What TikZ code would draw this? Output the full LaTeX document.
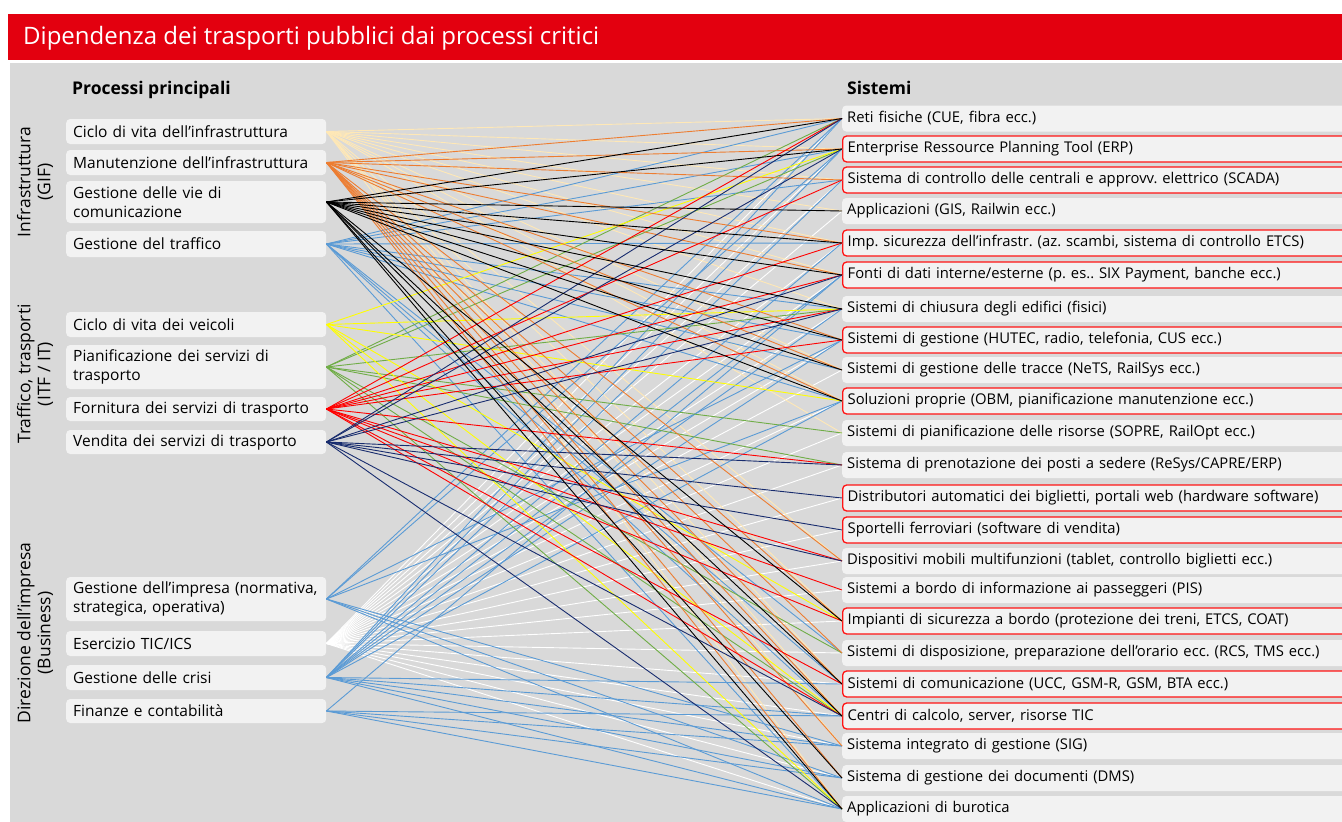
\documentclass[tikz,border=0pt]{standalone}
\usepackage{fontspec}
\setmainfont{Open Sans}
\frenchspacing
\definecolor{titlered}{RGB}{227,0,15}
\definecolor{bggray}{RGB}{217,217,217}
\definecolor{boxgray}{RGB}{242,242,242}
\definecolor{sysred}{RGB}{255,20,20}
\definecolor{lcream}{RGB}{255,232,182}
\definecolor{lorange}{RGB}{237,125,49}
\definecolor{lblue}{RGB}{91,155,213}
\definecolor{lyellow}{RGB}{255,255,0}
\definecolor{lgreen}{RGB}{112,173,71}
\definecolor{lred}{RGB}{255,0,0}
\definecolor{lnavy}{RGB}{24,44,110}
\newcommand{\boxfont}{\fontsize{15.5}{19}\selectfont}
\newcommand{\sysfont}{\fontsize{14.8}{18}\selectfont}
\newcommand{\grpfont}{\fontsize{17.5}{20}\selectfont}
\newcommand{\headfont}{\fontsize{17.5}{20}\selectfont\bfseries}
\newcommand{\titlefont}{\fontsize{24}{28}\selectfont}
\tikzset{
  pbox/.style={fill=boxgray, rounded corners=4pt, anchor=west, minimum width=260pt, text width=246pt, inner xsep=7pt, inner ysep=2pt, align=left, font=\boxfont},
  sbox/.style={fill=boxgray, rounded corners=4pt, anchor=west, minimum width=530pt, text width=520pt, inner xsep=5pt, inner ysep=2pt, align=left, minimum height=26pt, font=\sysfont},
  redbox/.style={sbox, draw=sysred, line width=1.3pt},
  conn/.style={line width=0.9pt},
}
\begin{document}
\begin{tikzpicture}[x=1pt,y=-1pt]
\useasboundingbox (0,0) rectangle (1342,822);
\clip (0,0) rectangle (1342,822);
\fill[titlered] (8,14) rectangle (1342,60);
\node[anchor=west, text=white, font=\titlefont, inner sep=0pt] (title) at (23,38) {Dipendenza dei trasporti pubblici dai processi critici};
\fill[bggray] (10,63) rectangle (1342,822);

\node[anchor=west, font=\headfont, inner sep=0pt] (h1) at (72,90) {Processi principali};
\node[anchor=west, font=\headfont, inner sep=0pt] (h2) at (847,88) {Sistemi};

\node[rotate=90, align=center, font=\grpfont] (g1) at (35,182) {Infrastruttura\\(GIF)};
\node[rotate=90, align=center, font=\grpfont] (g2) at (35,374) {Traffico, trasporti\\(ITF / IT)};
\node[rotate=90, align=center, font=\grpfont] (g3) at (35,633) {Direzione dell’impresa\\(Business)};

% processes
\node[pbox, minimum height=25pt] (p1) at (66,131.5) {Ciclo di vita dell’infrastruttura};
\node[pbox, minimum height=25pt] (p2) at (66,162.5) {Manutenzione dell’infrastruttura};
\node[pbox, minimum height=42pt] (p3) at (66,202) {Gestione delle vie di\\comunicazione};
\node[pbox, minimum height=26pt] (p4) at (66,244) {Gestione del traffico};
\node[pbox, minimum height=25pt] (p5) at (66,324.5) {Ciclo di vita dei veicoli};
\node[pbox, minimum height=44pt] (p6) at (66,367) {Pianificazione dei servizi di\\trasporto};
\node[pbox, minimum height=24pt] (p7) at (66,409) {Fornitura dei servizi di trasporto};
\node[pbox, minimum height=24pt] (p8) at (66,442) {Vendita dei servizi di trasporto};
\node[pbox, minimum height=44pt] (p9) at (66,599) {Gestione dell’impresa (normativa,\\strategica, operativa)};
\node[pbox, minimum height=25pt] (p10) at (66,643.5) {Esercizio TIC/ICS};
\node[pbox, minimum height=25pt] (p11) at (66,677.5) {Gestione delle crisi};
\node[pbox, minimum height=24pt] (p12) at (66,711) {Finanze e contabilità};

% systems
\node[sbox] (s1) at (842,118.5) {Reti fisiche (CUE, fibra ecc.)};
\node[redbox] (s2) at (842,149) {Enterprise Ressource Planning Tool (ERP)};
\node[redbox] (s3) at (842,180) {Sistema di controllo delle centrali e approvv. elettrico (SCADA)};
\node[sbox] (s4) at (842,211) {Applicazioni (GIS, Railwin ecc.)};
\node[redbox] (s5) at (842,243) {Imp. sicurezza dell’infrastr. (az. scambi, sistema di controllo ETCS)};
\node[redbox] (s6) at (842,275) {Fonti di dati interne/esterne (p. es.. SIX Payment, banche ecc.)};
\node[sbox] (s7) at (842,309) {Sistemi di chiusura degli edifici (fisici)};
\node[redbox] (s8) at (842,340) {Sistemi di gestione (HUTEC, radio, telefonia, CUS ecc.)};
\node[sbox] (s9) at (842,370) {Sistemi di gestione delle tracce (NeTS, RailSys ecc.)};
\node[redbox] (s10) at (842,401) {Soluzioni proprie (OBM, pianificazione manutenzione ecc.)};
\node[sbox] (s11) at (842,433) {Sistemi di pianificazione delle risorse (SOPRE, RailOpt ecc.)};
\node[sbox] (s12) at (842,465) {Sistema di prenotazione dei posti a sedere (ReSys/CAPRE/ERP)};
\node[redbox] (s13) at (842,498) {Distributori automatici dei biglietti, portali web (hardware software)};
\node[redbox] (s14) at (842,530) {Sportelli ferroviari (software di vendita)};
\node[sbox] (s15) at (842,561) {Dispositivi mobili multifunzioni (tablet, controllo biglietti ecc.)};
\node[sbox] (s16) at (842,590) {Sistemi a bordo di informazione ai passeggeri (PIS)};
\node[redbox] (s17) at (842,621) {Impianti di sicurezza a bordo (protezione dei treni, ETCS, COAT)};
\node[sbox] (s18) at (842,653) {Sistemi di disposizione, preparazione dell’orario ecc. (RCS, TMS ecc.)};
\node[redbox] (s19) at (842,684) {Sistemi di comunicazione (UCC, GSM-R, GSM, BTA ecc.)};
\node[redbox] (s20) at (842,716) {Centri di calcolo, server, risorse TIC};
\node[sbox] (s21) at (842,746) {Sistema integrato di gestione (SIG)};
\node[sbox] (s22) at (842,778) {Sistema di gestione dei documenti (DMS)};
\node[sbox] (s23) at (842,809) {Applicazioni di burotica};

% connectors
\foreach \t in {1,...,23} \draw[conn, white] (p10.east) -- (s\t.west);
\foreach \t in {1,2,3,4,5,6,7,9,10,11,15,17,19,20,21,23} \draw[conn, lcream] (p1.east) -- (s\t.west);
\foreach \t in {1,2,3,5,7,8,9,10,18,19,20,23} \draw[conn, lblue] (p4.east) -- (s\t.west);
\foreach \t in {1,2,8,10,21,22,23} \draw[conn, lblue] (p9.east) -- (s\t.west);
\foreach \t in {1,2,3,5,6,7,8,10,19,20,21,22,23} \draw[conn, lblue] (p11.east) -- (s\t.west);
\foreach \t in {6,20,21,22,23} \draw[conn, lblue] (p12.east) -- (s\t.west);
\foreach \t in {1,2,7,11,12,18,20,23} \draw[conn, lgreen] (p6.east) -- (s\t.west);
\foreach \t in {2,7,10,17,20,23} \draw[conn, lyellow] (p5.east) -- (s\t.west);
\foreach \t in {1,2,3,5,6,8,9,10,15,17,18,19,20,21,22,23} \draw[conn, lorange] (p2.east) -- (s\t.west);
\foreach \t in {1,3,5,6,7,8,12,15,16,17,19,20} \draw[conn, lred] (p7.east) -- (s\t.west);
\foreach \t in {1,2,6,7,12,13,14,15,20,23} \draw[conn, lnavy] (p8.east) -- (s\t.west);
\foreach \t in {1,2,4,5,6,7,8,9,10,17,19,20,22,23} \draw[conn, black] (p3.east) -- (s\t.west);
\end{tikzpicture}
\end{document}
